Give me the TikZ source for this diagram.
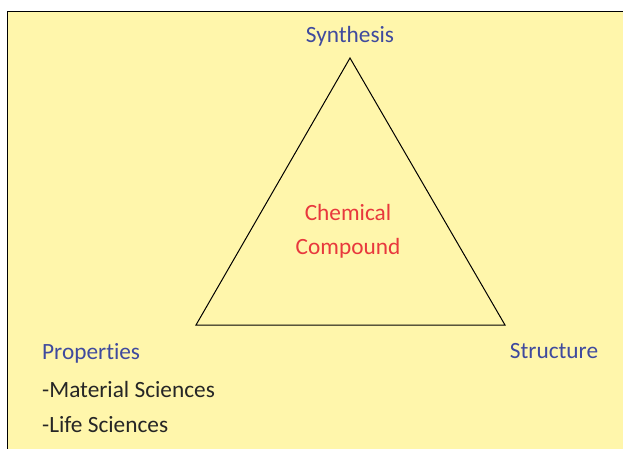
\documentclass[tikz,border=0pt]{standalone}
\usepackage{fontspec}
\setmainfont[Ligatures=NoCommon]{Carlito}
\begin{document}
\begin{tikzpicture}[x=1pt,y=-1pt,
  lbl/.style={inner sep=0pt,font=\fontsize{23.3}{27}\selectfont},
  blue lbl/.style={lbl,text=labelblue},
  red lbl/.style={lbl,text=labelred},
  dark lbl/.style={lbl,text=black!85}]
\definecolor{labelblue}{HTML}{3F4A9E}
\definecolor{labelred}{HTML}{E8383D}
\definecolor{bgyellow}{HTML}{FFF6AB}
\useasboundingbox (0,0) rectangle (623,448);
\fill[white] (0,0) rectangle (623,448);
\filldraw[fill=bgyellow,draw=black,line width=1pt] (7.5,11.5) rectangle (640,470);
\coordinate (A) at (350,58);
\coordinate (B) at (196,325);
\coordinate (C) at (505,325);
\draw[line width=1pt] (A) -- (B) -- (C) -- cycle;
\node[blue lbl] (syn) at (350,36) {Synthesis};
\node[red lbl] (chem) at (348,212) {Chemical};
\node[red lbl] (comp) at (348,248) {Compound};
\node[blue lbl] (str) at (554,351) {Structure};
\node[blue lbl,anchor=west] (prop) at (42,353) {Properties};
\node[dark lbl,anchor=west] (mat) at (42,389) {-Material Sciences};
\node[dark lbl,anchor=west] (life) at (42,425) {-Life Sciences};
\end{tikzpicture}
\end{document}
